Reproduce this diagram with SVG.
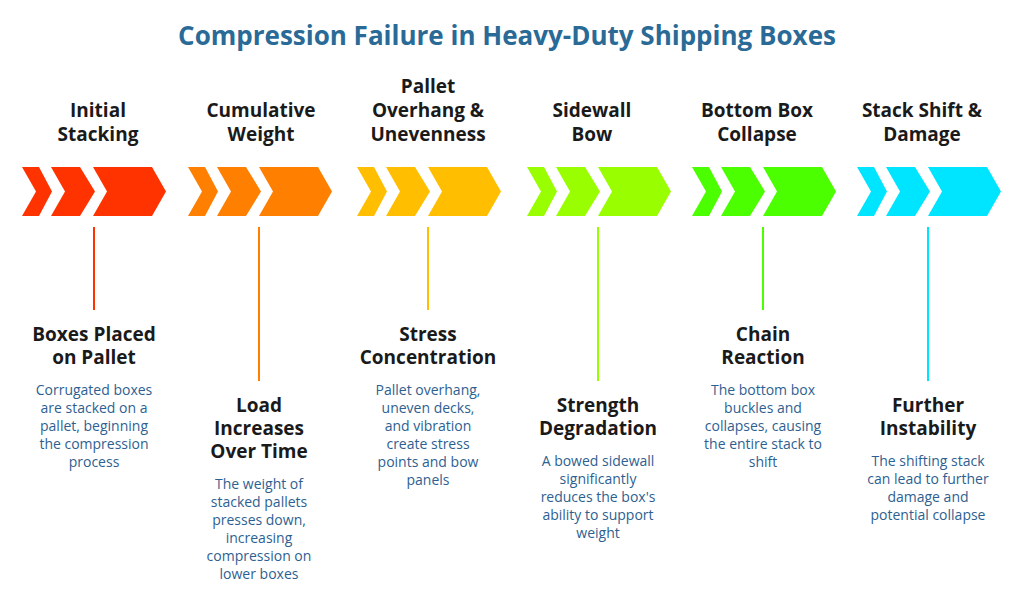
<svg xmlns="http://www.w3.org/2000/svg" width="1024" height="605" viewBox="0 0 1024 605">
<style>
.t{font-family:"Open Sans","Liberation Sans",sans-serif;font-weight:700;font-size:26px;fill:#2a6a96;text-anchor:middle}
.h{font-family:"Open Sans","Liberation Sans",sans-serif;font-weight:700;font-size:19px;fill:#1a1a1a;text-anchor:middle}
.d{font-family:"Open Sans","Liberation Sans",sans-serif;font-size:14px;fill:#2e5f91;text-anchor:middle}
line{stroke-width:2}
</style>
<defs>
<g id="chev">
<path d="M0,0H17L30,24.5L17,49H0L14,24.5Z"/>
<path d="M29,0H58L73,24.5L58,49H29L43,24.5Z"/>
<path d="M71,0H130L144,24.5L130,49H71L85,24.5Z"/>
</g>
</defs>
<rect width="1024" height="605" fill="#fff"/>
<text class="t" x="507" y="45">Compression Failure in Heavy-Duty Shipping Boxes</text>
<g id="connectors">
<line x1="94" y1="227" x2="94" y2="310" stroke="#ff3300"/>
<line x1="259" y1="227" x2="259" y2="381" stroke="#ff7f00"/>
<line x1="428" y1="227" x2="428" y2="310" stroke="#ffbf00"/>
<line x1="598" y1="227" x2="598" y2="381" stroke="#99ff00"/>
<line x1="763" y1="227" x2="763" y2="310" stroke="#4cff00"/>
<line x1="928" y1="227" x2="928" y2="381" stroke="#00e5ff"/>
</g>
<g id="n1"><use href="#chev" x="22" y="167" fill="#ff3300"/>
<text class="h" x="98" y="117">Initial</text><text class="h" x="98" y="141">Stacking</text>
<text class="h" x="94" y="341">Boxes Placed</text><text class="h" x="94" y="364">on Pallet</text>
<text class="d" x="94" y="395">Corrugated boxes</text><text class="d" x="94" y="413">are stacked on a</text><text class="d" x="94" y="431">pallet, beginning</text><text class="d" x="94" y="449">the compression</text><text class="d" x="94" y="467">process</text></g>
<g id="n2"><use href="#chev" x="188" y="167" fill="#ff7f00"/>
<text class="h" x="261" y="117">Cumulative</text><text class="h" x="261" y="141">Weight</text>
<text class="h" x="259" y="412">Load</text><text class="h" x="259" y="435">Increases</text><text class="h" x="259" y="458">Over Time</text>
<text class="d" x="259" y="489">The weight of</text><text class="d" x="259" y="507">stacked pallets</text><text class="d" x="259" y="525">presses down,</text><text class="d" x="259" y="543">increasing</text><text class="d" x="259" y="561">compression on</text><text class="d" x="259" y="579">lower boxes</text></g>
<g id="n3"><use href="#chev" x="357" y="167" fill="#ffbf00"/>
<text class="h" x="428" y="93">Pallet</text><text class="h" x="428" y="117">Overhang &amp;</text><text class="h" x="428" y="141">Unevenness</text>
<text class="h" x="428" y="341">Stress</text><text class="h" x="428" y="364">Concentration</text>
<text class="d" x="428" y="395">Pallet overhang,</text><text class="d" x="428" y="413">uneven decks,</text><text class="d" x="428" y="431">and vibration</text><text class="d" x="428" y="449">create stress</text><text class="d" x="428" y="467">points and bow</text><text class="d" x="428" y="485">panels</text></g>
<g id="n4"><use href="#chev" x="527" y="167" fill="#99ff00"/>
<text class="h" x="592" y="117">Sidewall</text><text class="h" x="592" y="141">Bow</text>
<text class="h" x="598" y="412">Strength</text><text class="h" x="598" y="435">Degradation</text>
<text class="d" x="598" y="466">A bowed sidewall</text><text class="d" x="598" y="484">significantly</text><text class="d" x="598" y="502">reduces the box's</text><text class="d" x="598" y="520">ability to support</text><text class="d" x="598" y="538">weight</text></g>
<g id="n5"><use href="#chev" x="692" y="167" fill="#4cff00"/>
<text class="h" x="757" y="117">Bottom Box</text><text class="h" x="757" y="141">Collapse</text>
<text class="h" x="763" y="341">Chain</text><text class="h" x="763" y="364">Reaction</text>
<text class="d" x="763" y="395">The bottom box</text><text class="d" x="763" y="413">buckles and</text><text class="d" x="763" y="431">collapses, causing</text><text class="d" x="763" y="449">the entire stack to</text><text class="d" x="763" y="467">shift</text></g>
<g id="n6"><use href="#chev" x="857" y="167" fill="#00e5ff"/>
<text class="h" x="922" y="117">Stack Shift &amp;</text><text class="h" x="922" y="141">Damage</text>
<text class="h" x="928" y="412">Further</text><text class="h" x="928" y="435">Instability</text>
<text class="d" x="928" y="466">The shifting stack</text><text class="d" x="928" y="484">can lead to further</text><text class="d" x="928" y="502">damage and</text><text class="d" x="928" y="520">potential collapse</text></g>
</svg>
